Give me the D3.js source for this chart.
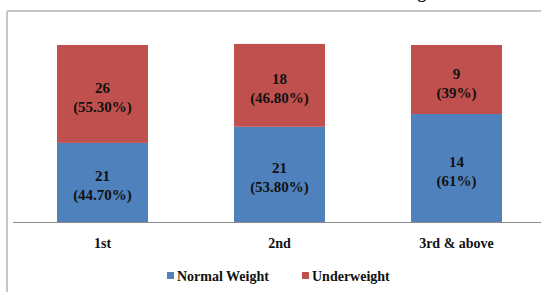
<!DOCTYPE html>
<html>
<head>
<meta charset="utf-8">
<script src="https://cdn.jsdelivr.net/npm/d3@7"></script>
<style>
  body { margin: 0; background: #fff; }
  svg { display: block; }
</style>
</head>
<body>
<svg id="chart"></svg>
<script>
const categories = ["1st", "2nd", "3rd & above"];
const normalCount = [21, 21, 14];
const underCount = [26, 18, 9];
const normalPct = [44.7, 53.8, 61];
const underPct = [55.3, 46.8, 39];
const normalPctLabel = ["44.70%", "53.80%", "61%"];
const underPctLabel = ["55.30%", "46.80%", "39%"];
const seriesNames = ["Normal Weight", "Underweight"];
const colors = ["#4F81BD", "#C0504D"];

const w = 541;
const h = 292;

const svg = d3.select("#chart").attr("width", w).attr("height", h)
  .style("font-family", "'Liberation Serif', 'Times New Roman', serif")
  .style("font-weight", "bold");

// outer chart frame (only top and left visible in the crop)
svg.append("line")
  .attr("x1", 7).attr("x2", w).attr("y1", 11).attr("y2", 11)
  .attr("stroke", "#c6c6c6").attr("stroke-width", 2);
svg.append("line")
  .attr("x1", 7).attr("x2", 7).attr("y1", 11).attr("y2", h)
  .attr("stroke", "#c6c6c6").attr("stroke-width", 2);

// title, mostly cut off above the picture
svg.append("text")
  .attr("x", 426)
  .attr("y", -2)
  .attr("text-anchor", "end")
  .attr("font-size", "17px")
  .attr("fill", "#111")
  .text("Distribution of Nutritional Status Among");

const x = d3.scaleBand()
  .domain(categories)
  .range([14, 545])
  .paddingInner(0.486)
  .paddingOuter(0.243);

const y = d3.scaleLinear().domain([0, 100]).range([222, 45]);

const rows = categories.map((c, i) => ({
  cat: c,
  normal: normalPct[i],
  under: underPct[i],
  labels: [
    [normalCount[i], normalPctLabel[i]],
    [underCount[i], underPctLabel[i]]
  ]
}));

const series = d3.stack().keys(["normal", "under"])(rows);

const groups = svg.selectAll(".series")
  .data(series)
  .enter()
  .append("g")
  .attr("fill", (d, i) => colors[i]);

groups.selectAll("rect")
  .data((d) => d)
  .enter()
  .append("rect")
  .attr("x", (d) => x(d.data.cat))
  .attr("y", (d) => y(d[1]))
  .attr("width", x.bandwidth())
  .attr("height", (d) => y(d[0]) - y(d[1]));

series.forEach((s, si) => {
  s.forEach((d) => {
    const cx = x(d.data.cat) + x.bandwidth() / 2;
    const cy = (y(d[0]) + y(d[1])) / 2 + 3;
    const lab = d.data.labels[si];
    const t = svg.append("text")
      .attr("text-anchor", "middle")
      .attr("font-size", "15px")
      .attr("fill", "#111");
    t.append("tspan").attr("x", cx).attr("y", cy - 4).text(lab[0]);
    t.append("tspan").attr("x", cx).attr("y", cy + 15).text("(" + lab[1] + ")");
  });
});

// baseline axis
svg.append("line")
  .attr("x1", 13).attr("x2", w).attr("y1", y(0) + 0.5).attr("y2", y(0) + 0.5)
  .attr("stroke", "#8c8c8c").attr("stroke-width", 1);

svg.selectAll(".cat-label")
  .data(categories)
  .enter()
  .append("text")
  .attr("class", "cat-label")
  .attr("x", (d) => x(d) + x.bandwidth() / 2)
  .attr("y", 248)
  .attr("text-anchor", "middle")
  .attr("font-size", "14px")
  .attr("fill", "#111")
  .text((d) => d);

// legend
const legendX = [167, 302];
const legend = svg.selectAll(".legend-item")
  .data(seriesNames)
  .enter()
  .append("g")
  .attr("transform", (d, i) => `translate(${legendX[i]},272)`);

legend.append("rect")
  .attr("width", 7)
  .attr("height", 7)
  .attr("fill", (d, i) => colors[i]);

legend.append("text")
  .attr("x", 10)
  .attr("y", 9)
  .attr("font-size", "14px")
  .attr("fill", "#111")
  .text((d) => d);
</script>
</body>
</html>
